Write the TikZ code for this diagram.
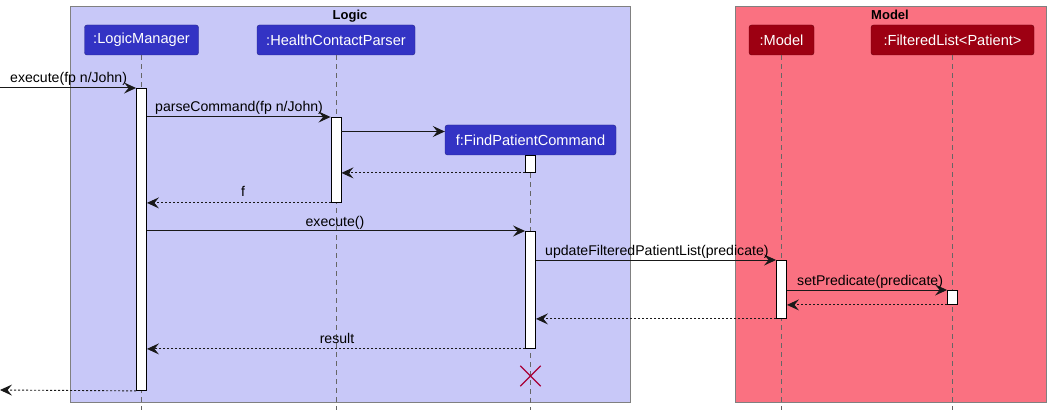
\documentclass[tikz,border=0pt]{standalone}
\usepackage{fontspec}
\setmainfont{Liberation Sans}
\usetikzlibrary{arrows.meta}
\definecolor{logicfill}{RGB}{200,200,248}
\definecolor{modelfill}{RGB}{250,113,129}
\definecolor{framedraw}{RGB}{128,128,128}
\definecolor{logicpart}{RGB}{51,51,196}
\definecolor{modelpart}{RGB}{157,0,18}
\definecolor{destroy}{RGB}{168,0,54}
\tikzset{
  frame/.style={draw=framedraw, line width=0.9pt},
  framelabel/.style={font=\fontsize{13}{15}\selectfont\bfseries, anchor=base},
  part/.style={rounded corners=2.5pt, draw=#1!70!black, fill=#1, text=white,
    font=\fontsize{14.6}{16}\selectfont, inner sep=0pt, minimum height=30pt},
  lifeline/.style={draw=black!60, dash pattern=on 5pt off 4pt, line width=0.8pt},
  act/.style={draw=black, fill=white, line width=0.9pt, minimum width=10pt, inner sep=0pt},
  msg/.style={draw=black!90, line width=1pt, -{Stealth[length=12pt,width=11pt,inset=4.5pt]}},
  ret/.style={draw=black!90, line width=0.9pt, dash pattern=on 2pt off 2pt, -{Stealth[length=12pt,width=11pt,inset=4.5pt]}},
  lbl/.style={font=\fontsize{14.1}{16}\selectfont, anchor=base west, inner sep=0pt},
}
\begin{document}
\begin{tikzpicture}[x=1pt,y=-1pt]
\useasboundingbox (0,0) rectangle (1052,414);
% frames
\node[frame, fill=logicfill, minimum width=560pt, minimum height=396pt, inner sep=0pt, anchor=north west] (logic) at (70,6) {};
\node[frame, fill=modelfill, minimum width=311pt, minimum height=396pt, inner sep=0pt, anchor=north west] (model) at (735,6) {};
\node[framelabel] (logict) at (350,20) {Logic};
\node[framelabel] (modelt) at (890,20) {Model};
% participants
\node[part=logicpart, minimum width=114pt] (lm) at (141.5,40) {:LogicManager};
\node[part=logicpart, minimum width=158pt] (hcp) at (336,40) {:HealthContactParser};
\node[part=logicpart, minimum width=171pt] (fpc) at (530.5,140) {f:FindPatientCommand};
\node[part=modelpart, minimum width=65pt] (md) at (781.5,40) {:Model};
\node[part=modelpart, minimum width=163pt] (fl) at (952.5,40) {:FilteredList<Patient>};
% lifeline ends
\coordinate (lmE) at (141.5,410);
\coordinate (hcpE) at (336,410);
\coordinate (fpcE) at (530.5,410);
\coordinate (mdE) at (781.5,410);
\coordinate (flE) at (952.5,410);
\draw[lifeline] (lm.south) -- (lmE);
\draw[lifeline] (hcp.south) -- (hcpE);
\draw[lifeline] (fpc.south) -- (fpcE);
\draw[lifeline] (md.south) -- (mdE);
\draw[lifeline] (fl.south) -- (flE);
% activations
\node[act, minimum height=302pt, anchor=north] (a1) at (141.5,88) {};
\node[act, minimum height=85pt, anchor=north] (a2) at (336,117) {};
\node[act, minimum height=17pt, anchor=north] (a3) at (530.5,155) {};
\node[act, minimum height=117pt, anchor=north] (a4) at (530.5,231) {};
\node[act, minimum height=58pt, anchor=north] (a5) at (781.5,260) {};
\node[act, minimum height=14pt, anchor=north] (a6) at (952.5,290) {};
% outside points
\coordinate (in) at (0,88);
\coordinate (out) at (0,390);
\coordinate (cy) at (0,131.5);
% messages
\draw[msg] (in) -- (a1.north west);
\node[lbl] (l1) at (10,83) {execute(fp n/John)};
\draw[msg] (a1.east |- a2.north) -- (a2.north west);
\node[lbl] (l2) at (155,112) {parseCommand(fp n/John)};
\draw[msg] (a2.east |- cy) -- (fpc.west |- cy);
\draw[ret] (a3.south west) -- (a2.east |- a3.south);
\draw[ret] (a2.south west) -- (a1.east |- a2.south);
\node[lbl, anchor=base] (l3) at (243,197) {f};
\draw[msg] (a1.east |- a4.north) -- (a4.north west);
\node[lbl, anchor=base] (l4) at (335,226) {execute()};
\draw[msg] (a4.east |- a5.north) -- (a5.north west);
\node[lbl] (l5) at (545,255) {updateFilteredPatientList(predicate)};
\draw[msg] (a5.east |- a6.north) -- (a6.north west);
\node[lbl] (l6) at (797,285) {setPredicate(predicate)};
\draw[ret] (a6.south west) -- (a5.east |- a6.south);
\draw[ret] (a5.south west) -- (a4.east |- a5.south);
\draw[ret] (a4.south west) -- (a1.east |- a4.south);
\node[lbl, anchor=base] (l7) at (337,343) {result};
\draw[ret] (a1.south west) -- (out);
% destroy
\node[inner sep=0pt, minimum size=20pt] (x) at (530.5,376) {};
\draw[destroy, line width=1.3pt] (x.north west) -- (x.south east) (x.north east) -- (x.south west);
\end{tikzpicture}
\end{document}
